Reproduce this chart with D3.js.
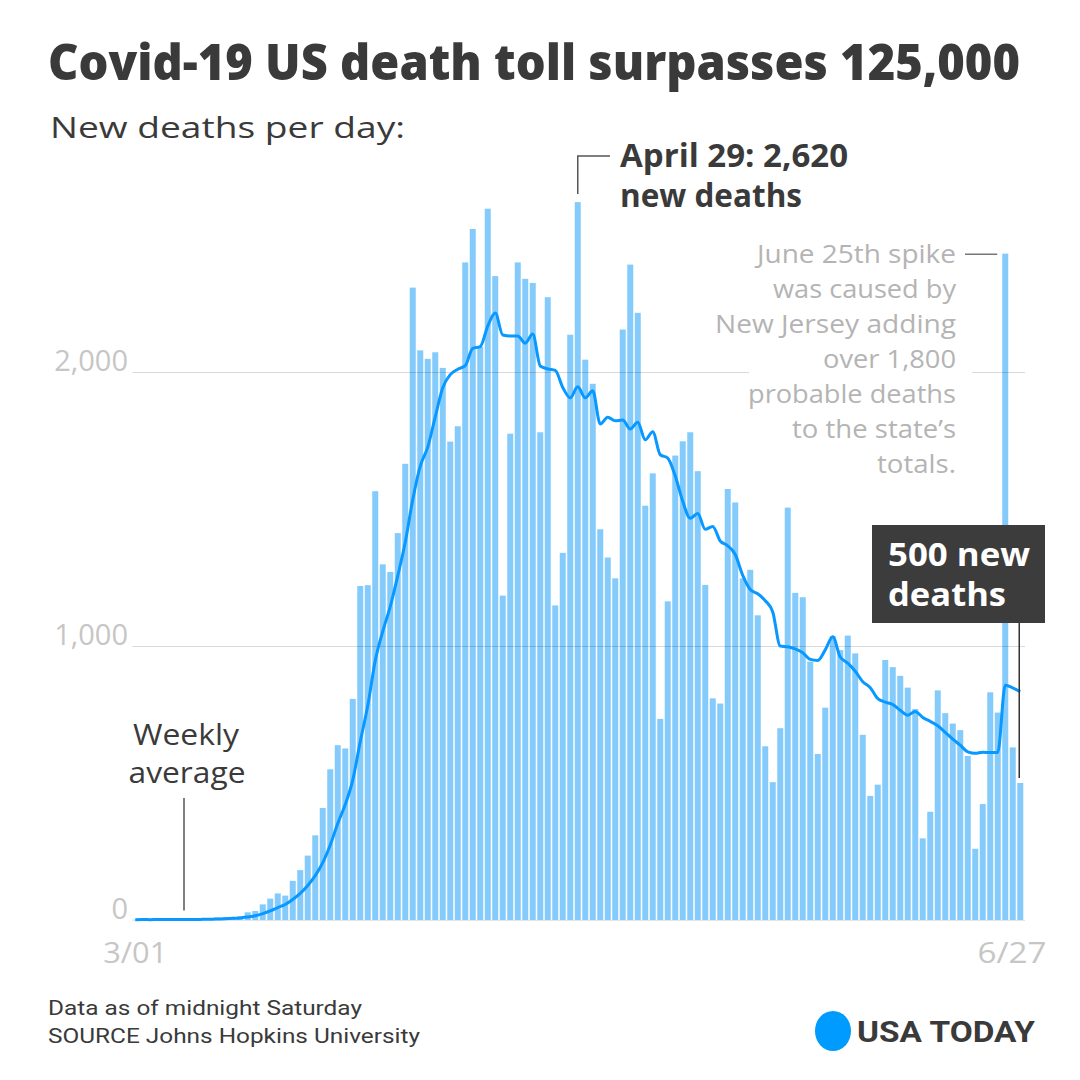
<!DOCTYPE html>
<html>
<head>
<meta charset="utf-8">
<script src="https://cdn.jsdelivr.net/npm/d3@7"></script>
<style>
  body { margin: 0; background: #fff; }
  svg { display: block; font-family: "Open Sans", "Noto Sans", sans-serif; }
</style>
</head>
<body>
<div id="chart"></div>
<script>
// New deaths per day, 3/01 .. 6/27
const newDeaths = [
  1, 2, 1, 2, 1, 2, 2, 3, 3, 3,
  4, 9, 10, 11, 14, 28, 33, 57, 78, 97,
  89, 143, 182, 235, 309, 409, 550, 638, 626, 807,
  1219, 1222, 1565, 1298, 1270, 1412, 1665, 2308, 2079, 2048,
  2072, 2015, 1746, 1802, 2400, 2522, 2092, 2596, 2350, 1184,
  1775, 2400, 2340, 2325, 1780, 2273, 1148, 1340, 2136, 2620,
  2045, 1957, 1426, 1323, 1247, 2155, 2392, 2216, 1512, 1630,
  734, 1163, 1695, 1747, 1780, 1638, 1223, 809, 790, 1573,
  1524, 1247, 1278, 1112, 634, 503, 700, 1505, 1194, 1178,
  943, 606, 775, 1036, 985, 1038, 973, 676, 453, 494,
  949, 923, 891, 848, 770, 298, 395, 838, 755, 717,
  693, 599, 260, 423, 831, 757, 2432, 630, 500
];

const yTicks = [0, 1000, 2000];
const xTickLabels = ["3/01", "6/27"];
const spikeNote = [
  "June 25th spike", "was caused by", "New Jersey adding", "over 1,800",
  "probable deaths", "to the state\u2019s", "totals."
];

const width = 1080;
const height = 1080;

const startDay = new Date(2020, 2, 1);
const days = d3.timeDay.range(startDay, d3.timeDay.offset(startDay, newDeaths.length));
const rows = days.map((d, i) => ({ day: d, value: newDeaths[i] }));

// trailing 7-day average
rows.forEach((r, i) => {
  r.avg = d3.mean(newDeaths.slice(Math.max(0, i - 6), i + 1));
});

const x = d3.scaleBand()
  .domain(days)
  .range([131.5, 1024])
  .paddingInner(0.2)
  .paddingOuter(0.1);

const y = d3.scaleLinear()
  .domain([0, 2000])
  .range([920, 372]);

const cx = d => x(d) + x.bandwidth() / 2;

const svg = d3.select("#chart").append("svg")
  .attr("width", width)
  .attr("height", height);

svg.append("rect").attr("width", width).attr("height", height).attr("fill", "#fff");

// text helper, stretches to the measured width when len given
function label(g, txt, px, py, o) {
  const t = g.append("text")
    .attr("x", px)
    .attr("y", py)
    .attr("font-size", o.size)
    .attr("font-weight", o.weight || 400)
    .attr("fill", o.fill || "#3a3a3a")
    .attr("text-anchor", o.anchor || "start")
    .text(txt);
  if (o.family) t.attr("font-family", o.family);
  if (o.len) t.attr("textLength", o.len).attr("lengthAdjust", "spacingAndGlyphs");
  return t;
}

// Title
label(svg, "Covid-19 US death toll surpasses 125,000", 48, 80, { size: 49, weight: 800, fill: "#3a3a3a", len: 972 });
label(svg, "New deaths per day:", 50, 138, { size: 30, fill: "#3a3a3a", len: 355 });

// Bars
svg.append("g")
  .selectAll("rect")
  .data(rows)
  .join("rect")
  .attr("x", d => x(d.day))
  .attr("y", d => y(d.value))
  .attr("width", x.bandwidth())
  .attr("height", d => y(0) - y(d.value))
  .attr("fill", "#84cbfc");

// Gridlines (on top of bars, faint)
const grid = svg.append("g");
grid.selectAll("line")
  .data(yTicks)
  .join("line")
  .attr("x1", 132.5)
  .attr("x2", 1025)
  .attr("y1", d => y(d) + 0.5)
  .attr("y2", d => y(d) + 0.5)
  .attr("stroke", "#000")
  .attr("stroke-opacity", d => d === 0 ? 0.1 : 0.15)
  .attr("stroke-width", 1);

// Y labels
const fmt = d3.format(",");
svg.append("g")
  .selectAll("text")
  .data(yTicks)
  .join("text")
  .attr("x", 128)
  .attr("y", d => y(d) - 1)
  .attr("text-anchor", "end")
  .attr("font-size", 29)
  .attr("fill", "#c6c6c6")
  .text(d => fmt(d));

// X labels (first and last day)
const firstDay = days[0], lastDay = days[days.length - 1];
label(svg, xTickLabels[0], cx(firstDay), 963, { size: 30, fill: "#c6c6c6", anchor: "middle", len: 64 });
label(svg, xTickLabels[1], 1012, 963, { size: 30, fill: "#c6c6c6", anchor: "middle", len: 69 });

// Weekly average line
svg.append("path")
  .datum(rows)
  .attr("fill", "none")
  .attr("stroke", "#0898ff")
  .attr("stroke-width", 3)
  .attr("stroke-linejoin", "round")
  .attr("d", d3.line()
    .x(d => cx(d.day))
    .y(d => y(d.avg))
    .curve(d3.curveMonotoneX));

// "Weekly average" annotation
const ann = svg.append("g");
label(ann, "Weekly", 186, 745, { size: 29, anchor: "middle", len: 106 });
label(ann, "average", 187, 783, { size: 29, anchor: "middle", len: 117 });
const weeklyX = cx(days[6]) + x.step() / 2;
ann.append("line")
  .attr("x1", weeklyX).attr("x2", weeklyX)
  .attr("y1", 798).attr("y2", y(rows[6].avg) - 9)
  .attr("stroke", "#555").attr("stroke-width", 1.5);

// Peak annotation
const peak = rows[d3.maxIndex(rows.slice(0, 100), d => d.value)];
const px = cx(peak.day);
ann.append("path")
  .attr("d", `M${px},${y(peak.value) - 8}V156H610`)
  .attr("fill", "none")
  .attr("stroke", "#555")
  .attr("stroke-width", 1.5);
label(ann, "April 29: " + fmt(peak.value), 620, 167, { size: 32, weight: 700, len: 228 });
label(ann, "new deaths", 620, 207, { size: 32, weight: 700, len: 182 });

// June 25 spike note
const spike = rows[116];
ann.append("rect")
  .attr("x", 749).attr("y", 236)
  .attr("width", 223).attr("height", 248)
  .attr("fill", "#fff");
const noteLens = [199, 183, 241, 133, 208, 164, 79];
spikeNote.forEach((s, i) => {
  label(ann, s, 956, 263 + i * 35, { size: 26, fill: "#b4b4b4", anchor: "end", len: noteLens[i] });
});
ann.append("line")
  .attr("x1", 965).attr("x2", cx(spike.day) - 8)
  .attr("y1", y(spike.value) + 0.5).attr("y2", y(spike.value) + 0.5)
  .attr("stroke", "#777").attr("stroke-width", 1.5);

// "500 new deaths" box
const last = rows[rows.length - 1];
ann.append("rect")
  .attr("x", 872).attr("y", 525)
  .attr("width", 173).attr("height", 98)
  .attr("fill", "#3c3c3c");
label(ann, fmt(last.value) + " new", 888, 566, { size: 32, weight: 700, fill: "#fff", len: 142 });
label(ann, "deaths", 888, 606, { size: 32, weight: 700, fill: "#fff", len: 118 });
ann.append("line")
  .attr("x1", cx(lastDay) - 1).attr("x2", cx(lastDay) - 1)
  .attr("y1", 623).attr("y2", y(last.value) - 5)
  .attr("stroke", "#333").attr("stroke-width", 1.5);

// Footer
const foot = svg.append("g");
label(foot, "Data as of midnight Saturday", 48, 1015, {
  size: 20, family: "'Liberation Sans Narrow', 'Roboto', sans-serif", len: 314
});
label(foot, "SOURCE Johns Hopkins University", 48, 1043, {
  size: 20, family: "'Liberation Sans Narrow', 'Roboto', sans-serif", len: 372
});
foot.append("ellipse")
  .attr("cx", 833).attr("cy", 1031)
  .attr("rx", 18).attr("ry", 20)
  .attr("fill", "#009bff");
label(foot, "USA TODAY", 857, 1042, {
  size: 29, weight: 700, fill: "#3a3a3a",
  family: "'Liberation Sans Narrow', 'Roboto', sans-serif", len: 178
});
</script>
</body>
</html>
